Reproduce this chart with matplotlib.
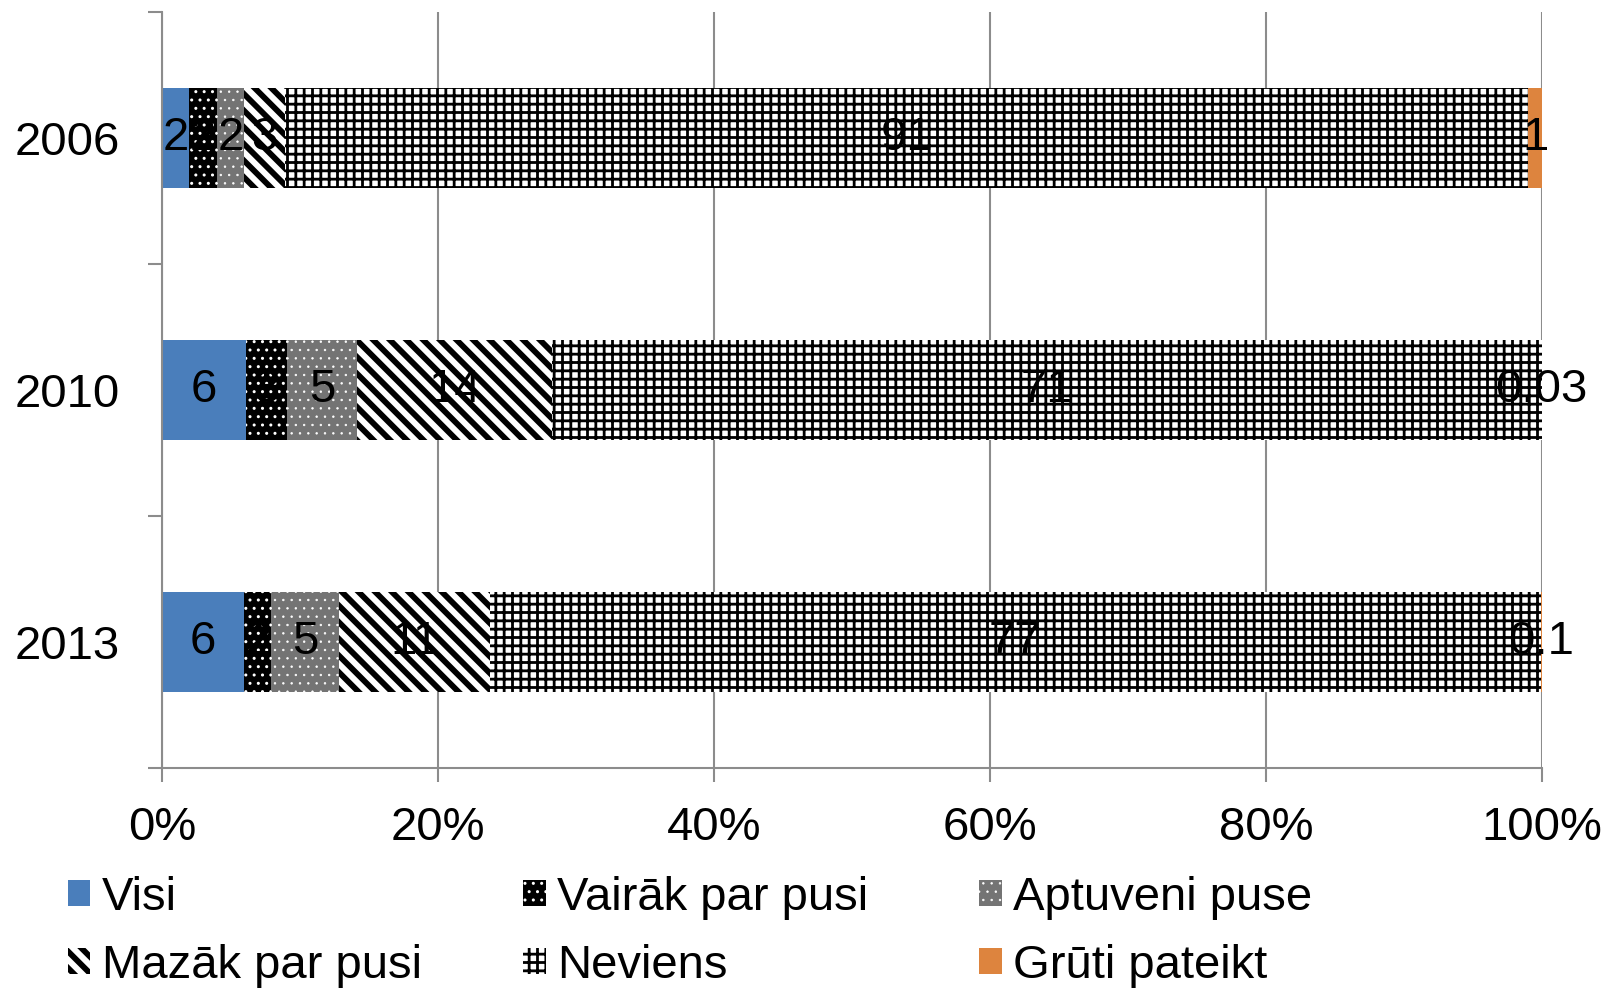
import matplotlib
matplotlib.use('Agg')
import matplotlib.pyplot as plt
import numpy as np

plt.rcParams['font.family'] = ['Liberation Sans', 'DejaVu Sans']

# ---- data ----
years = ['2006', '2010', '2013']
series_names = ['Visi', 'Vairāk par pusi', 'Aptuveni puse',
                'Mazāk par pusi', 'Neviens', 'Grūti pateikt']
visi = [2, 6, 6]
vairak = [2, 3, 2]
aptuveni = [2, 5, 5]
mazak = [3, 14, 11]
neviens = [91, 71, 77]
gruti = [1, 0.03, 0.1]
x_ticks = [0, 20, 40, 60, 80, 100]
x_ticklabels = ['0%', '20%', '40%', '60%', '80%', '100%']

series = [visi, vairak, aptuveni, mazak, neviens, gruti]

# ---- styles: facecolor, hatch colour, hatch, hatch linewidth ----
styles = [
    ('#4A7EBB', 'none', None, 1.0),
    ('#000000', '#FFFFFF', '..', 1.0),
    ('#747474', '#FFFFFF', '..', 0.5),
    ('#FFFFFF', '#000000', '\\\\', 4.2),
    ('#FFFFFF', '#000000', '++', 2.0),
    ('#DD843E', 'none', None, 1.0),
]


def set_hlw(patch, lw):
    if hasattr(patch, 'set_hatch_linewidth'):
        patch.set_hatch_linewidth(lw)
    else:
        patch._hatch_linewidth = lw


W, H = 1607, 989
fig = plt.figure(figsize=(W / 100, H / 100), dpi=100)
ax = fig.add_axes([162 / W, 1 - 768 / H, (1542 - 162) / W, (768 - 12) / H])

data = np.array(series, dtype=float)
totals = data.sum(axis=0)
pct = data / totals * 100
ypos = np.arange(len(years))
left = np.zeros(len(years))
gray = '#8C8C8C'
FS = 34

handles = []
for i, name in enumerate(series_names):
    fc, hc, hatch, hlw = styles[i]
    with plt.rc_context({'hatch.linewidth': hlw}):
        bars = ax.barh(ypos, pct[i], left=left, height=0.4, color=fc,
                       edgecolor=hc, hatch=hatch, linewidth=0, label=name)
    for p in bars.patches:
        set_hlw(p, hlw)
    handles.append(bars)
    for j in range(len(years)):
        ax.text(left[j] + pct[i][j] / 2, ypos[j], f'{series[i][j]:g}',
                ha='center', va='center', fontsize=FS, color='black')
    left = left + pct[i]

ax.set_xlim(0, 100)
ax.set_ylim(len(years) - 0.5, -0.5)
ax.set_xticks(x_ticks)
ax.set_xticklabels(x_ticklabels)
ax.set_yticks(ypos)
ax.set_yticklabels(years)
ax.set_yticks(np.arange(len(years) + 1) - 0.5, minor=True)

for s in ['top', 'right']:
    ax.spines[s].set_visible(False)
for s in ['left', 'bottom']:
    ax.spines[s].set_color(gray)
    ax.spines[s].set_linewidth(1.5)

ax.tick_params(axis='x', direction='out', length=10, width=1.5, color=gray,
               labelsize=FS, pad=17)
ax.tick_params(axis='y', which='major', length=0, labelsize=FS, pad=30)
ax.tick_params(axis='y', which='minor', direction='out', length=10,
               width=1.5, color=gray)
ax.xaxis.grid(True, color=gray, linewidth=1.5)
ax.set_axisbelow(True)

# ---- legend: 3 columns, 2 rows ----
col_x = [67.7, 523, 979]
for c in range(3):
    idx = [c, c + 3]
    hs = [handles[k] for k in idx]
    ls = [series_names[k] for k in idx]
    leg = fig.legend(hs, ls, loc='upper left',
                     bbox_to_anchor=(col_x[c] / W, 1 - 876 / H),
                     frameon=False, borderpad=0, borderaxespad=0,
                     handlelength=0.48, handleheight=0.48, handletextpad=0.25,
                     labelspacing=0.50, fontsize=FS)
    lh = getattr(leg, 'legend_handles', None) or leg.legendHandles
    for h, k in zip(lh, idx):
        set_hlw(h, styles[k][3])

fig.savefig('out.png', dpi=100)
